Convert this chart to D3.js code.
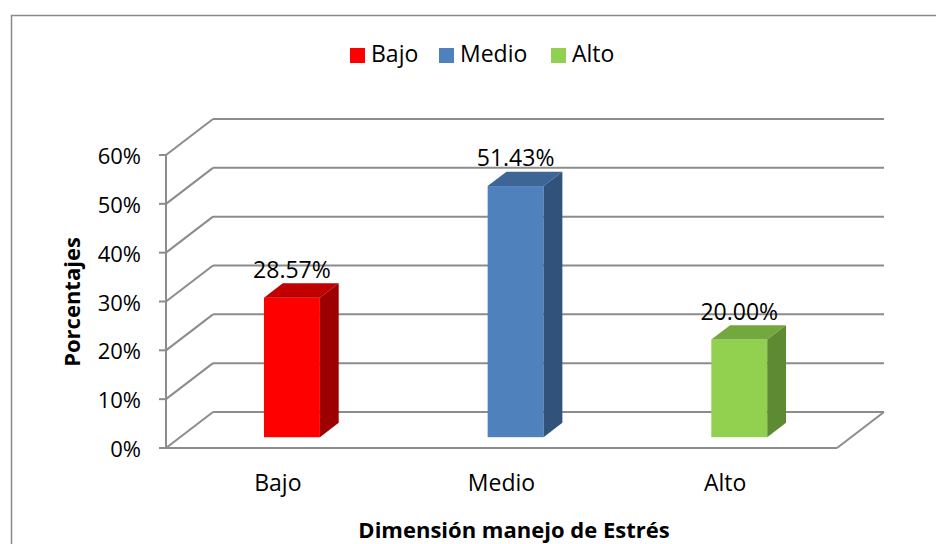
<!DOCTYPE html>
<html>
<head>
<meta charset="utf-8">
<script src="https://cdn.jsdelivr.net/npm/d3@7"></script>
<style>
  body { margin: 0; background: #fff; }
  svg { display: block; font-family: "Open Sans", sans-serif; }
</style>
</head>
<body>
<svg id="chart" width="936" height="544"></svg>
<script>
// chart data
const categories = ["Bajo", "Medio", "Alto"];
const values = [0.2857, 0.5143, 0.20];
const valueLabels = ["28.57%", "51.43%", "20.00%"];
const yTicks = [0, 0.1, 0.2, 0.3, 0.4, 0.5, 0.6];
const frontColors = ["#ff0000", "#4f81bd", "#92d050"];
const topColors = ["#c00000", "#3d6696", "#72a83c"];
const sideColors = ["#9c0000", "#30527b", "#5e8a33"];

const svg = d3.select('#chart');

// outer frame (runs off the right/bottom edge like the source)
svg.append('rect')
    .attr('x', 11.5).attr('y', 15.5)
    .attr('width', 940).attr('height', 540)
    .attr('fill', 'none')
    .attr('stroke', '#8a8a8a')
    .attr('stroke-width', 1.5);

// plot geometry
const x0 = 166, x1 = 837;          // front floor edge
const depth = { dx: 47, dy: -36 };  // 3d depth vector
const grid = '#8c8c8c';

const xScale = d3.scaleBand()
    .domain(categories)
    .range([x0, x1])
    .paddingInner(0).paddingOuter(0);

const yScale = d3.scaleLinear()
    .domain([0, 0.6])
    .range([448, 155]);

const g = svg.append('g');

// back wall gridlines
g.selectAll('.back-grid')
    .data(yTicks)
    .enter()
    .append('line')
    .attr('x1', x0 + depth.dx).attr('x2', x1 + depth.dx)
    .attr('y1', d => yScale(d) + depth.dy).attr('y2', d => yScale(d) + depth.dy)
    .attr('stroke', grid).attr('stroke-width', 2);

// left wall diagonals
g.selectAll('.side-grid')
    .data(yTicks)
    .enter()
    .append('line')
    .attr('x1', x0).attr('x2', x0 + depth.dx)
    .attr('y1', d => yScale(d)).attr('y2', d => yScale(d) + depth.dy)
    .attr('stroke', grid).attr('stroke-width', 2);

// floor front edge and right diagonal
g.append('line')
    .attr('x1', x0).attr('x2', x1)
    .attr('y1', yScale(0)).attr('y2', yScale(0))
    .attr('stroke', grid).attr('stroke-width', 2);
g.append('line')
    .attr('x1', x1).attr('x2', x1 + depth.dx)
    .attr('y1', yScale(0)).attr('y2', yScale(0) + depth.dy)
    .attr('stroke', grid).attr('stroke-width', 2);

// y axis line + ticks
g.append('line')
    .attr('x1', x0).attr('x2', x0)
    .attr('y1', yScale(0.6)).attr('y2', yScale(0))
    .attr('stroke', grid).attr('stroke-width', 2);
g.selectAll('.tick')
    .data(yTicks)
    .enter()
    .append('line')
    .attr('x1', x0 - 7).attr('x2', x0)
    .attr('y1', d => yScale(d)).attr('y2', d => yScale(d))
    .attr('stroke', grid).attr('stroke-width', 2);

g.selectAll('.ytick-label')
    .data(yTicks)
    .enter()
    .append('text')
    .attr('x', 141)
    .attr('y', d => yScale(d) + 9)
    .attr('text-anchor', 'end')
    .style('font-size', '22px')
    .attr('fill', '#000')
    .text(d => d3.format('.0%')(d));

// bars (pseudo 3d: front, top, side)
const tFront = 0.3, tDepth = 0.4;
const barW = xScale.bandwidth() * 0.25;
const fx = d => xScale(d) + xScale.bandwidth() / 2 - barW / 2 + depth.dx * tFront;
const fy = v => yScale(v) + depth.dy * tFront;
const ddx = depth.dx * tDepth, ddy = depth.dy * tDepth;

const bars = g.selectAll('.bar')
    .data(categories)
    .enter()
    .append('g');

bars.append('rect')
    .attr('x', d => fx(d))
    .attr('y', (d, i) => fy(values[i]))
    .attr('width', barW)
    .attr('height', (d, i) => fy(0) - fy(values[i]))
    .attr('fill', (d, i) => frontColors[i]);

bars.append('path')
    .attr('d', (d, i) => {
        const x = fx(d), y = fy(values[i]);
        return `M${x},${y}L${x + ddx},${y + ddy}L${x + barW + ddx},${y + ddy}L${x + barW},${y}Z`;
    })
    .attr('fill', (d, i) => topColors[i]);

bars.append('path')
    .attr('d', (d, i) => {
        const x = fx(d) + barW, y = fy(values[i]), yb = fy(0);
        return `M${x},${y}L${x + ddx},${y + ddy}L${x + ddx},${yb + ddy}L${x},${yb}Z`;
    })
    .attr('fill', (d, i) => sideColors[i]);

// value labels
bars.append('text')
    .attr('x', d => fx(d) + barW / 2)
    .attr('y', (d, i) => fy(values[i]) - 20)
    .attr('text-anchor', 'middle')
    .style('font-size', '23px')
    .text((d, i) => valueLabels[i]);

// category labels
g.selectAll('.xlabel')
    .data(categories)
    .enter()
    .append('text')
    .attr('x', d => xScale(d) + xScale.bandwidth() / 2)
    .attr('y', 491)
    .attr('text-anchor', 'middle')
    .style('font-size', '23px')
    .text(d => d);

// axis titles
svg.append('text')
    .attr('x', 514).attr('y', 538)
    .attr('text-anchor', 'middle')
    .style('font-size', '22px').style('font-weight', 'bold')
    .text('Dimensión manejo de Estrés');

svg.append('text')
    .attr('transform', 'translate(80,302) rotate(-90)')
    .attr('text-anchor', 'middle')
    .style('font-size', '22px').style('font-weight', 'bold')
    .text('Porcentajes');

// legend
const legendX = [350, 439, 551];
const legend = svg.selectAll('.legend')
    .data(categories)
    .enter()
    .append('g')
    .attr('transform', (d, i) => `translate(${legendX[i]}, 48)`);
legend.append('rect')
    .attr('width', 15).attr('height', 15)
    .attr('fill', (d, i) => frontColors[i]);
legend.append('text')
    .attr('x', 21).attr('y', 14)
    .style('font-size', '23px')
    .text(d => d);
</script>
</body>
</html>
